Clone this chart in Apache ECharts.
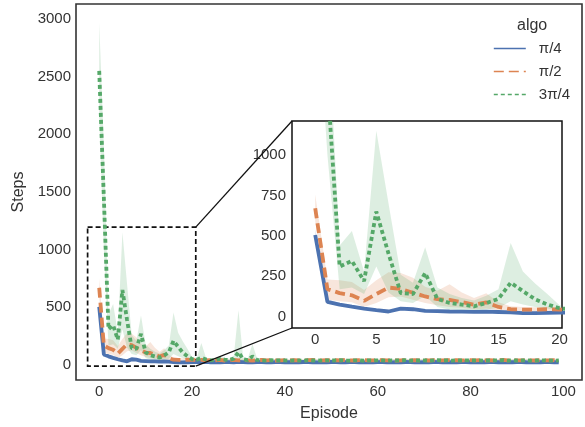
<!DOCTYPE html>
<html>
<head>
<meta charset="utf-8">
<script src="https://cdn.jsdelivr.net/npm/echarts@6/dist/echarts.min.js"></script>
<style>
html, body { margin: 0; padding: 0; background: #fff; }
#Echarts { width: 585px; height: 427px; }
</style>
</head>
<body>
<div id="Echarts"></div>
<script>
// series names / colours
var names = ['π/4', 'π/2', '3π/4'];
var colors = ['#4c72b0', '#dd8452', '#55a868'];
var bandColors = ['rgba(76,114,176,0.2)', 'rgba(221,132,82,0.2)', 'rgba(85,168,104,0.2)'];

// tick labels
var mainXTicks = [0, 20, 40, 60, 80, 100];
var mainYTicks = [0, 500, 1000, 1500, 2000, 2500, 3000];
var insetXTicks = [0, 5, 10, 15, 20];
var insetYTicks = [0, 250, 500, 750, 1000];

// zoomed region shown by the dashed box
var zoomBoxX = [-2.5, 20.8];
var zoomBoxY = [-10, 1195];

// π/4 (episode = index)
var blueMean = [505,92,75,62,50,40,32,50,46,36,34,32,31,30,31,29,26,22,22,24,25,
  26,25,27,24,25,23,26,25,24,27,25,23,24,26,25,24,23,25,26,24,
  25,23,24,26,25,24,23,25,24,26,25,23,24,25,26,24,23,25,24,25,
  26,24,23,25,24,26,25,24,23,25,24,26,25,24,23,25,24,25,26,24,
  23,25,24,26,25,24,23,25,24,25,26,24,23,25,24,26,25,24,23];
var blueLow = [470,80,66,55,44,34,27,42,40,31,29,27,26,25,26,24,21,18,18,20,21,
  22,21,23,20,21,19,22,21,20,23,21,19,20,22,21,20,19,21,22,20,
  21,19,20,22,21,20,19,21,20,22,21,19,20,21,22,20,19,21,20,21,
  22,20,19,21,20,22,21,20,19,21,20,22,21,20,19,21,20,21,22,20,
  19,21,20,22,21,20,19,21,20,21,22,20,19,21,20,22,21,20,19];
var blueHigh = [540,106,85,70,57,47,38,58,53,42,40,37,36,35,36,34,31,27,27,29,30,
  30,29,31,28,29,27,30,29,28,31,29,27,28,30,29,28,27,29,30,28,
  29,27,28,30,29,28,27,29,28,30,29,27,28,29,30,28,27,29,28,29,
  30,28,27,29,28,30,29,28,27,29,28,30,29,28,27,29,28,29,30,28,
  27,29,28,30,29,28,27,29,28,29,30,28,27,29,28,30,29,28,27];

// π/2
var orangeMean = [670,170,146,132,98,140,180,172,148,125,108,104,90,74,88,60,46,44,43,46,44,
  42,45,40,43,41,44,39,42,45,40,43,41,38,42,44,40,43,39,41,42,
  40,43,41,39,42,44,40,41,43,39,42,40,44,41,39,42,43,40,41,42,
  43,40,42,39,41,44,40,42,41,43,39,42,40,41,43,40,42,41,39,42,
  41,43,40,42,39,41,44,40,42,41,40,43,41,39,42,40,41,43,40];
var orangeLow = [590,105,95,90,60,85,120,125,105,85,70,60,55,45,50,40,32,30,30,32,30,
  33,35,31,34,32,35,30,33,35,31,34,32,29,33,35,31,34,30,32,33,
  31,34,32,30,33,35,31,32,34,30,33,31,35,32,30,33,34,31,32,33,
  34,31,33,30,32,35,31,33,32,34,30,33,31,32,34,31,33,32,30,33,
  32,34,31,33,30,32,35,31,33,32,31,34,32,30,33,31,32,34,31];
var orangeHigh = [755,230,225,215,165,225,275,270,240,185,160,200,150,115,145,90,65,60,58,62,58,
  53,56,50,54,51,55,49,53,56,50,54,51,48,53,55,50,54,49,51,53,
  50,54,51,49,53,55,50,51,54,49,53,50,55,51,49,53,54,50,51,53,
  54,50,53,49,51,55,50,53,51,54,49,53,50,51,54,50,53,51,49,53,
  51,54,50,53,49,51,55,50,53,51,50,54,51,49,53,50,51,54,50];

// 3π/4
var greenMean = [2550,1450,310,345,220,650,390,146,140,270,110,85,75,64,84,110,210,158,108,76,52,
  45,63,48,40,44,52,47,43,55,112,50,42,75,44,40,38,42,39,41,40,
  38,41,40,37,42,39,40,38,41,39,40,42,38,39,41,40,37,40,39,41,
  40,38,41,39,40,42,38,40,39,41,38,40,42,39,40,38,41,39,40,41,
  39,40,38,41,40,39,42,38,40,39,41,40,38,39,41,40,39,38,40];
var greenLow = [2150,1000,170,180,140,310,150,95,85,130,60,45,40,35,45,55,95,75,60,50,35,
  35,30,38,32,34,38,36,33,38,35,38,33,40,34,31,30,33,31,32,31,
  31,33,32,30,34,31,33,30,33,32,32,34,31,31,33,32,30,33,31,33,
  32,31,33,31,32,34,30,32,31,33,31,32,34,31,32,30,33,31,32,33,
  31,32,30,33,32,31,34,30,32,31,33,32,30,31,33,32,31,30,32];
var greenHigh = [2970,1900,440,530,280,1150,700,260,210,430,180,140,115,100,130,170,455,280,205,140,70,
  60,190,62,52,58,70,62,55,80,475,65,55,183,58,52,48,54,50,52,51,
  46,50,48,45,51,47,48,46,50,47,48,51,46,47,50,48,45,48,47,50,
  48,46,50,47,48,51,46,48,47,50,46,48,51,47,48,46,50,47,48,50,
  47,48,46,50,48,47,51,46,48,47,50,48,46,47,50,48,47,46,48];

var means = [blueMean, orangeMean, greenMean];
var lows = [blueLow, orangeLow, greenLow];
var highs = [blueHigh, orangeHigh, greenHigh];
var dashes = ['solid', [10, 5], [4, 3]];

var font = 'Liberation Sans, Arial, sans-serif';

function pairs(arr) {
    return arr.map(function (v, i) { return [i, v]; });
}

function tickFormatter(ticks) {
    return function (v) {
        for (var i = 0; i < ticks.length; i++) {
            if (Math.abs(ticks[i] - v) < 1e-6) return String(ticks[i]);
        }
        return '';
    };
}

function makeAxis(gi, min, max, interval, ticks, margin, extra) {
    var ax = {
        type: 'value', gridIndex: gi, min: min, max: max, interval: interval,
        axisLine: { show: false }, axisTick: { show: false }, splitLine: { show: false },
        axisLabel: {
            interval: 0, margin: margin, color: '#333', fontSize: 15, fontFamily: font,
            formatter: tickFormatter(ticks)
        }
    };
    for (var k in extra) ax[k] = extra[k];
    return ax;
}

// confidence band as one polygon, placed through the axes
function band(k, gi) {
    var lo = lows[k], hi = highs[k];
    return {
        type: 'custom', xAxisIndex: gi, yAxisIndex: gi, clip: true, silent: true,
        data: lo.map(function (v, i) { return [i, v, hi[i]]; }),
        encode: { x: 0, y: [1, 2] },
        renderItem: function (params, api) {
            if (params.dataIndex !== 0) return null;
            var pts = [], i;
            for (i = 0; i < hi.length; i++) pts.push(api.coord([i, hi[i]]));
            for (i = lo.length - 1; i >= 0; i--) pts.push(api.coord([i, lo[i]]));
            return { type: 'polygon', shape: { points: pts }, style: { fill: bandColors[k] } };
        }
    };
}

var series = [];
[0, 1].forEach(function (gi) {
    for (var k = 0; k < 3; k++) {
        series.push(band(k, gi));
        var s = {
            type: 'line', name: names[k], xAxisIndex: gi, yAxisIndex: gi,
            data: pairs(means[k]), symbol: 'none', color: colors[k],
            lineStyle: { color: colors[k], width: 3.8, type: dashes[k], cap: 'butt' }
        };
        if (gi === 0 && k === 0) {
            s.markArea = {
                silent: true,
                itemStyle: { color: 'rgba(0,0,0,0)', borderColor: '#111', borderWidth: 1.7, borderType: [5, 3] },
                data: [[{ coord: [zoomBoxX[0], zoomBoxY[1]] }, { coord: [zoomBoxX[1], zoomBoxY[0]] }]]
            };
        }
        series.push(s);
    }
});

var myChart = echarts.init(document.getElementById('Echarts'));

var option = {
    animation: false,
    backgroundColor: '#fff',
    title: {
        text: 'algo', left: 517, top: 18, padding: 0,
        textStyle: { fontSize: 16, fontWeight: 'normal', color: '#333', fontFamily: font }
    },
    legend: {
        data: names, orient: 'vertical', left: 493, top: 41, padding: 0,
        itemWidth: 32, itemHeight: 14, itemGap: 8,
        lineStyle: { width: 1.6 },
        itemStyle: { opacity: 0, borderWidth: 0 },
        textStyle: { fontSize: 15, color: '#333', fontFamily: font, padding: [0, 0, 0, 8] }
    },
    grid: [
        { left: 76, top: 4, width: 507, height: 379, show: true, borderColor: '#333', borderWidth: 1.6, backgroundColor: 'rgba(0,0,0,0)' },
        { left: 292, top: 121, width: 270, height: 207, show: true, borderColor: '#111', borderWidth: 1.5, backgroundColor: '#fff' }
    ],
    xAxis: [
        makeAxis(0, -5, 104, 1, mainXTicks, 4, {
            name: 'Episode', nameLocation: 'middle', nameGap: 26,
            nameTextStyle: { fontSize: 16, color: '#333', fontFamily: font }
        }),
        makeAxis(1, -1.9, 20.2, 0.1, insetXTicks, 4, {})
    ],
    yAxis: [
        makeAxis(0, -130, 3130, 10, mainYTicks, 5, {
            name: 'Steps', nameLocation: 'middle', nameGap: 42,
            nameTextStyle: { fontSize: 16, color: '#333', fontFamily: font }
        }),
        makeAxis(1, -70, 1210, 10, insetYTicks, 6, {})
    ],
    series: series
};

myChart.setOption(option);

// connector lines from the dashed box to the inset corners
var a1 = myChart.convertToPixel({ gridIndex: 0 }, [zoomBoxX[1], zoomBoxY[1]]);
var a2 = myChart.convertToPixel({ gridIndex: 0 }, [zoomBoxX[1], zoomBoxY[0]]);
var b1 = myChart.convertToPixel({ gridIndex: 1 }, [-1.9, 1210]);
var b2 = myChart.convertToPixel({ gridIndex: 1 }, [-1.9, -70]);
myChart.setOption({
    graphic: [
        { type: 'line', z: 10, shape: { x1: a1[0], y1: a1[1], x2: b1[0], y2: b1[1] }, style: { stroke: '#111', lineWidth: 1.3 } },
        { type: 'line', z: 10, shape: { x1: a2[0], y1: a2[1], x2: b2[0], y2: b2[1] }, style: { stroke: '#111', lineWidth: 1.3 } }
    ]
});
</script>
</body>
</html>
